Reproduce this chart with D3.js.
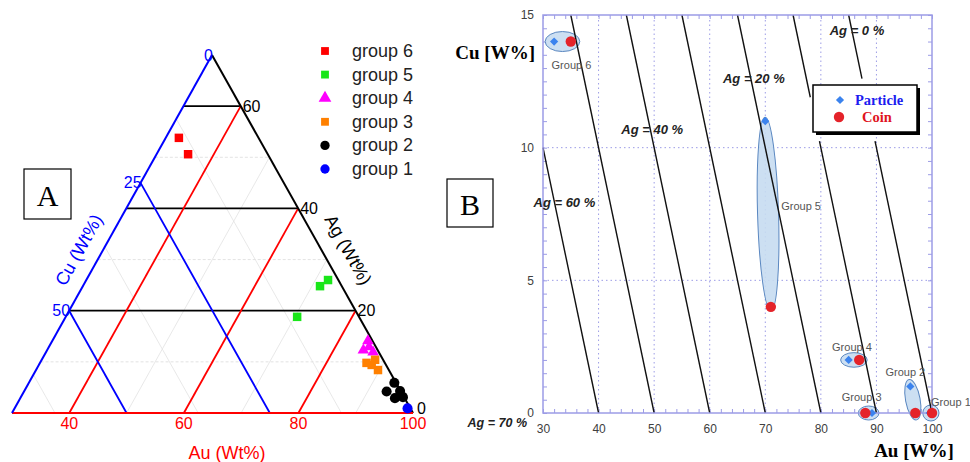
<!DOCTYPE html>
<html>
<head>
<meta charset="utf-8">
<script src="https://cdn.jsdelivr.net/npm/d3@7"></script>
<style>
  body { margin: 0; background: #fff; }
  svg { display: block; font-family: "Liberation Sans", Arial, sans-serif; }
</style>
</head>
<body>
<svg id="chart" width="970" height="462"></svg>
<script>
// ---------- panel A : ternary Au / Ag / Cu (wt%) ----------
const groupNames = ["group 6", "group 5", "group 4", "group 3", "group 2", "group 1"];
const ternPoints = [
  {g: "group 6", au: 32.3, ag: 53.8, cu: 13.9},
  {g: "group 6", au: 35.5, ag: 50.6, cu: 13.9},
  {g: "group 5", au: 71.4, ag: 24.8, cu: 3.8},
  {g: "group 5", au: 72.2, ag: 26.0, cu: 1.8},
  {g: "group 5", au: 70.4, ag: 18.8, cu: 10.8},
  {g: "group 4", au: 85.1, ag: 14.1, cu: 0.8},
  {g: "group 4", au: 85.2, ag: 12.3, cu: 2.5},
  {g: "group 4", au: 85.9, ag: 12.9, cu: 1.2},
  {g: "group 4", au: 87.1, ag: 11.9, cu: 1.0},
  {g: "group 3", au: 87.0, ag: 9.8, cu: 3.2},
  {g: "group 3", au: 88.2, ag: 10.4, cu: 1.4},
  {g: "group 3", au: 88.1, ag: 9.4, cu: 2.5},
  {g: "group 3", au: 89.7, ag: 8.4, cu: 1.9},
  {g: "group 2", au: 93.3, ag: 4.2, cu: 2.5},
  {g: "group 2", au: 93.8, ag: 5.9, cu: 0.3},
  {g: "group 2", au: 95.4, ag: 2.9, cu: 1.7},
  {g: "group 2", au: 96.7, ag: 3.1, cu: 0.2},
  {g: "group 2", au: 95.6, ag: 4.3, cu: 0.1},
  {g: "group 1", au: 98.6, ag: 0.9, cu: 0.5}
];
const auTicks = [40, 60, 80, 100];
const agTicks = [0, 20, 40, 60];
const cuTicks = [0, 25, 50];
const auMinor = [50, 70, 90];
const agMinor = [10, 30, 50];
const cuMinor = [12.5, 37.5, 62.5];

// ---------- panel B : Cu vs Au ----------
const groupsB = ["Group 6", "Group 5", "Group 4", "Group 3", "Group 2", "Group 1"];
const particleAu = [32, 70, 85, 89.2, 96.1, 99.6];
const particleCu = [14, 11, 2, 0, 1, 0];
const coinAu = [35, 71, 86.9, 88, 97, 100];
const coinCu = [14, 4, 2, 0, 0, 0];
const agLevels = [0, 10, 20, 30, 40, 50, 60];
const agLabelLevels = [0, 20, 40, 60];
const agLabelCu = [14.4, 12.6, 10.7, 7.95];
const xTicksB = [30, 40, 50, 60, 70, 80, 90, 100];
const yTicksB = [0, 5, 10, 15];

const svg = d3.select("#chart");

// ================= panel A =================
const gA = svg.append("g");
const BR = {x: 413, y: 413}, TOP = {x: 212, y: 55}, BL = {x: 12, y: 413};
const span = 70; // each component spans 70 wt% on this zoomed triangle

const agDx = d3.scaleLinear().domain([0, span]).range([0, TOP.x - BR.x]);
const agDy = d3.scaleLinear().domain([0, span]).range([0, TOP.y - BR.y]);
const cuDx = d3.scaleLinear().domain([0, span]).range([0, BL.x - BR.x]);
const cuDy = d3.scaleLinear().domain([0, span]).range([0, BL.y - BR.y]);
const tx = (ag, cu) => BR.x + agDx(ag) + cuDx(cu);
const ty = (ag, cu) => BR.y + agDy(ag) + cuDy(cu);

const colorA = {
  "group 6": "#ff0000", "group 5": "#19e619", "group 4": "#ff00ff",
  "group 3": "#ff8000", "group 2": "#000000", "group 1": "#0000ff"
};
const shapeA = {
  "group 6": d3.symbolSquare, "group 5": d3.symbolSquare, "group 4": d3.symbolTriangle,
  "group 3": d3.symbolSquare, "group 2": d3.symbolCircle, "group 1": d3.symbolCircle
};
const sizeA = {"group 6": 72, "group 5": 72, "group 4": 58, "group 3": 72, "group 2": 80, "group 1": 80};

// iso-lines as [ag, cu] endpoint pairs
const agLine = a => [[a, span - a], [a, 0]];
const auLine = u => [[0, 100 - u], [100 - u, 0]];
const cuLine = c => [[span - c, c], [0, c]];
const seg = (sel, pts, color, w, dash) => sel.append("line")
  .attr("x1", tx(...pts[0])).attr("y1", ty(...pts[0]))
  .attr("x2", tx(...pts[1])).attr("y2", ty(...pts[1]))
  .attr("stroke", color).attr("stroke-width", w)
  .attr("stroke-dasharray", dash || null);

// faint minor grid
const minorG = gA.append("g");
agMinor.forEach(a => seg(minorG, agLine(a), "#dcdcdc", 0.8, "3,2"));
auMinor.forEach(u => seg(minorG, auLine(u), "#e2e2e2", 0.8));
cuMinor.forEach(c => seg(minorG, cuLine(c), "#e2e2e2", 0.8));

// major coloured grid
const majorG = gA.append("g");
agTicks.filter(a => a > 0).forEach(a => seg(majorG, agLine(a), "#000", 1.8));
auTicks.filter(u => u < 100).forEach(u => seg(majorG, auLine(u), "#ff0000", 1.8));
cuTicks.filter(c => c > 0).forEach(c => seg(majorG, cuLine(c), "#0000ff", 1.8));

// triangle edges
seg(majorG, cuLine(0), "#000", 2);       // Ag side
seg(majorG, agLine(0), "#ff0000", 2);    // Au side
seg(majorG, auLine(30), "#0000ff", 2);   // Cu side

// points
gA.append("g").selectAll("path")
  .data(ternPoints)
  .join("path")
  .attr("transform", d => {
    const t = d.au + d.ag + d.cu;
    const ag = d.ag * 100 / t, cu = d.cu * 100 / t;
    return `translate(${tx(ag, cu)},${ty(ag, cu)})`;
  })
  .attr("d", d => d3.symbol().type(shapeA[d.g]).size(sizeA[d.g])())
  .attr("fill", d => colorA[d.g]);

// tick labels
const tickFont = 16;
gA.append("g").selectAll("text").data(cuTicks).join("text")
  .attr("x", c => tx(span - c, c) + 1).attr("y", c => ty(span - c, c))
  .attr("text-anchor", "end").attr("dominant-baseline", "central")
  .attr("font-size", tickFont).attr("fill", "#0000ff").text(c => c);
gA.append("g").selectAll("text").data(agTicks).join("text")
  .attr("x", a => tx(a, 0) + (a === 0 ? 4 : 2)).attr("y", a => ty(a, 0) - (a === 0 ? 5 : 0))
  .attr("dominant-baseline", "central")
  .attr("font-size", tickFont).attr("fill", "#000").text(a => a);
gA.append("g").selectAll("text").data(auTicks).join("text")
  .attr("x", u => tx(0, 100 - u)).attr("y", u => ty(0, 100 - u) + 10)
  .attr("text-anchor", "middle").attr("dominant-baseline", "central")
  .attr("font-size", tickFont).attr("fill", "#ff0000").text(u => u);

// axis titles
const leftAng = Math.atan2(TOP.y - BL.y, TOP.x - BL.x) * 180 / Math.PI;
const rightAng = Math.atan2(BR.y - TOP.y, BR.x - TOP.x) * 180 / Math.PI;
gA.append("text").attr("transform", `translate(79,250) rotate(${leftAng})`)
  .attr("text-anchor", "middle").attr("dominant-baseline", "central")
  .attr("font-size", 18).attr("fill", "#0000ff").text("Cu (Wt%)");
gA.append("text").attr("transform", `translate(348,250) rotate(${rightAng})`)
  .attr("text-anchor", "middle").attr("dominant-baseline", "central")
  .attr("font-size", 18).attr("fill", "#000").text("Ag (Wt%)");
gA.append("text").attr("x", 227).attr("y", 453)
  .attr("text-anchor", "middle").attr("dominant-baseline", "central")
  .attr("font-size", 18).attr("fill", "#ff0000").text("Au (Wt%)");

// legend
const legA = gA.append("g").selectAll("g").data(groupNames).join("g")
  .attr("transform", (d, i) => `translate(325,${51 + i * 23.6})`);
legA.append("path")
  .attr("d", d => d3.symbol().type(shapeA[d]).size(d === "group 4" ? 70 : sizeA[d] * 0.85)())
  .attr("fill", d => colorA[d]);
legA.append("text").attr("x", 27).attr("dominant-baseline", "central")
  .attr("font-size", 18).attr("fill", "#222").text(d => d);

// "A" box
gA.append("rect").attr("x", 24).attr("y", 169).attr("width", 47).attr("height", 50)
  .attr("fill", "#fff").attr("stroke", "#000").attr("stroke-width", 1.2);
gA.append("text").attr("x", 47.5).attr("y", 195).attr("text-anchor", "middle")
  .attr("dominant-baseline", "central").attr("font-family", "Liberation Serif, Times New Roman, serif")
  .attr("font-size", 30).text("A");

// ================= panel B =================
const gB = svg.append("g");
const x = d3.scaleLinear().domain([30, 100]).range([543, 932]);
const y = d3.scaleLinear().domain([0, 15]).range([413, 15]);
const frameCol = "#9c9ce6";

// dotted grid
gB.append("g").selectAll("line").data(xTicksB.slice(1, -1)).join("line")
  .attr("x1", d => x(d)).attr("x2", d => x(d)).attr("y1", y(0)).attr("y2", y(15))
  .attr("stroke", frameCol).attr("stroke-width", 1).attr("stroke-dasharray", "1.5,3");
gB.append("g").selectAll("line").data(yTicksB.slice(1, -1)).join("line")
  .attr("x1", x(30)).attr("x2", x(100)).attr("y1", d => y(d)).attr("y2", d => y(d))
  .attr("stroke", frameCol).attr("stroke-width", 1).attr("stroke-dasharray", "1.5,3");

// inward minor ticks on all four sides
const minorX = d3.range(30, 100.01, 2);
const minorY = d3.range(0, 15.01, 0.5);
const tickAxes = [
  [d3.axisBottom(x).tickValues(minorX), `translate(0,${y(0)})`],
  [d3.axisTop(x).tickValues(minorX), `translate(0,${y(15)})`],
  [d3.axisLeft(y).tickValues(minorY), `translate(${x(30)},0)`],
  [d3.axisRight(y).tickValues(minorY), `translate(${x(100)},0)`]
];
tickAxes.forEach(([ax, tr]) => {
  const g = gB.append("g").attr("transform", tr).call(ax.tickSize(-4).tickFormat(""));
  g.select(".domain").remove();
  g.selectAll("line").attr("stroke", frameCol);
});

// ellipses around particle / coin pairs
const ellPad = [9, 4, 8, 7, 7, 7];
const ellMinor = [10, 10.5, 7.3, 7, 7.3, 8];
const pairs = groupsB.map((g, i) => {
  const p = [x(particleAu[i]), y(particleCu[i])];
  const c = [x(coinAu[i]), y(coinCu[i])];
  const dx = c[0] - p[0], dy = c[1] - p[1];
  return {
    g, i,
    cx: (p[0] + c[0]) / 2, cy: (p[1] + c[1]) / 2,
    rx: Math.hypot(dx, dy) / 2 + ellPad[i], ry: ellMinor[i],
    ang: Math.atan2(dy, dx) * 180 / Math.PI
  };
});
gB.append("g").selectAll("ellipse").data(pairs).join("ellipse")
  .attr("transform", d => `translate(${d.cx},${d.cy}) rotate(${d.ang})`)
  .attr("rx", d => d.rx).attr("ry", d => d.ry)
  .attr("fill", "#c6dbf1").attr("fill-opacity", 0.9)
  .attr("stroke", "#5a87c0").attr("stroke-width", 1);

// Ag iso-lines (Au + Cu = 100 - Ag), broken behind the legend box
const agGapCu = {0: [10.25, 12.6], 10: [10.25, 11.9]};
const agSegs = [];
agLevels.forEach(a => {
  const cuMax = Math.min(15, 100 - a - 30);
  const gap = agGapCu[a];
  if (gap) {
    agSegs.push([a, 0, gap[0]]);
    agSegs.push([a, gap[1], cuMax]);
  } else {
    agSegs.push([a, 0, cuMax]);
  }
});
gB.append("g").selectAll("line").data(agSegs).join("line")
  .attr("x1", d => x(100 - d[0] - d[1])).attr("y1", d => y(d[1]))
  .attr("x2", d => x(100 - d[0] - d[2])).attr("y2", d => y(d[2]))
  .attr("stroke", "#111").attr("stroke-width", 1.4);

// frame
gB.append("rect").attr("x", x(30)).attr("y", y(15))
  .attr("width", x(100) - x(30)).attr("height", y(0) - y(15))
  .attr("fill", "none").attr("stroke", frameCol).attr("stroke-width", 1.5);

// Ag labels
const agLabOffset = [5, 3, 2, 10];
gB.append("g").selectAll("text").data(agLabelLevels).join("text")
  .attr("x", (a, i) => x(100 - a - agLabelCu[i]) + agLabOffset[i])
  .attr("y", (a, i) => y(agLabelCu[i]))
  .attr("text-anchor", "middle").attr("dominant-baseline", "central")
  .attr("font-size", 13).attr("font-weight", "bold").attr("font-style", "italic")
  .attr("fill", "#222").text(a => `Ag = ${a} %`);
gB.append("text").attr("x", x(30) - 16).attr("y", y(0) + 10)
  .attr("text-anchor", "end").attr("dominant-baseline", "central")
  .attr("font-size", 12.5).attr("font-weight", "bold").attr("font-style", "italic")
  .attr("fill", "#222").text("Ag = 70 %");

// markers
const particleCol = "#3b83ee", coinCol = "#e4232a";
gB.append("g").selectAll("path").data(groupsB).join("path")
  .attr("transform", (d, i) => `translate(${x(particleAu[i])},${y(particleCu[i])}) rotate(45)`)
  .attr("d", d3.symbol().type(d3.symbolSquare).size(34)())
  .attr("fill", particleCol);
gB.append("g").selectAll("circle").data(groupsB).join("circle")
  .attr("cx", (d, i) => x(coinAu[i])).attr("cy", (d, i) => y(coinCu[i]))
  .attr("r", 5.2).attr("fill", coinCol);

// group labels
const grpLabOff = [[9, 23.5], [33, -8], [-2, -13], [-7, -16], [-7.5, -28], [20, -11]];
gB.append("g").selectAll("text").data(pairs).join("text")
  .attr("x", d => d.cx + grpLabOff[d.i][0]).attr("y", d => d.cy + grpLabOff[d.i][1])
  .attr("text-anchor", "middle").attr("dominant-baseline", "central")
  .attr("font-size", 11).attr("fill", "#555").text(d => d.g);

// tick labels
const xl = gB.append("g").attr("transform", `translate(0,${y(0)})`)
  .call(d3.axisBottom(x).tickValues(xTicksB).tickSize(0).tickPadding(11));
const yl = gB.append("g").attr("transform", `translate(${x(30)},0)`)
  .call(d3.axisLeft(y).tickValues(yTicksB).tickSize(0).tickPadding(9));
[xl, yl].forEach(g => {
  g.select(".domain").remove();
  g.selectAll("text").attr("font-size", 12).attr("fill", "#404040")
    .attr("font-family", "Liberation Sans, Arial, sans-serif");
});

// axis titles
const serif = "Liberation Serif, Times New Roman, serif";
gB.append("text").attr("x", 535).attr("y", 52).attr("text-anchor", "end")
  .attr("dominant-baseline", "central").attr("font-family", serif)
  .attr("font-weight", "bold").attr("font-size", 19).attr("fill", "#000").text("Cu [W%]");
gB.append("text").attr("x", 914).attr("y", 450).attr("text-anchor", "middle")
  .attr("dominant-baseline", "central").attr("font-family", serif)
  .attr("font-weight", "bold").attr("font-size", 19).attr("fill", "#000").text("Au [W%]");

// legend with drop shadow
const legB = gB.append("g").attr("transform", "translate(813,85)");
legB.append("rect").attr("x", 3).attr("y", 3).attr("width", 104).attr("height", 47).attr("fill", "#000");
legB.append("rect").attr("width", 104).attr("height", 47)
  .attr("fill", "#fff").attr("stroke", "#000").attr("stroke-width", 1.5);
legB.append("path").attr("transform", "translate(27,15) rotate(45)")
  .attr("d", d3.symbol().type(d3.symbolSquare).size(34)()).attr("fill", particleCol);
legB.append("circle").attr("cx", 26).attr("cy", 32).attr("r", 5.2).attr("fill", coinCol);
legB.append("text").attr("x", 42).attr("y", 15).attr("dominant-baseline", "central")
  .attr("font-family", serif).attr("font-weight", "bold").attr("font-size", 14.5)
  .attr("fill", "#1c1cf0").text("Particle");
legB.append("text").attr("x", 49).attr("y", 32).attr("dominant-baseline", "central")
  .attr("font-family", serif).attr("font-weight", "bold").attr("font-size", 14.5)
  .attr("fill", "#e0141e").text("Coin");

// "B" box
gB.append("rect").attr("x", 447).attr("y", 179).attr("width", 46).attr("height", 48)
  .attr("fill", "#fff").attr("stroke", "#000").attr("stroke-width", 1.2);
gB.append("text").attr("x", 470).attr("y", 204).attr("text-anchor", "middle")
  .attr("dominant-baseline", "central").attr("font-family", serif)
  .attr("font-size", 30).text("B");
</script>
</body>
</html>
